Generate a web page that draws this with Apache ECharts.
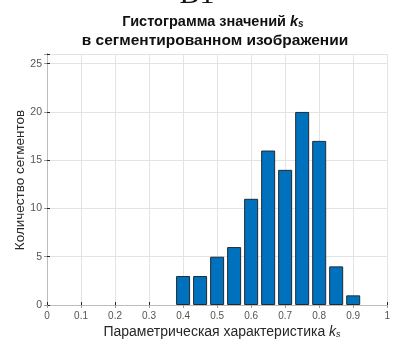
<!DOCTYPE html>
<html>
<head>
<meta charset="utf-8">
<script src="https://cdn.jsdelivr.net/npm/echarts@6/dist/echarts.min.js"></script>
<style>
  html, body { margin: 0; padding: 0; background: #fff; }
  #chart { width: 393px; height: 344px; }
</style>
</head>
<body>
<div id="chart"></div>
<script>
// Histogram bins (centres) and segment counts
const binCenters = [0.40, 0.45, 0.50, 0.55, 0.60, 0.65, 0.70, 0.75, 0.80, 0.85, 0.90];
const counts     = [3, 3, 5, 6, 11, 16, 14, 20, 17, 4, 1];
const xTicks = [0, 0.1, 0.2, 0.3, 0.4, 0.5, 0.6, 0.7, 0.8, 0.9, 1];
const yTicks = [0, 5, 10, 15, 20, 25];

const titleLine1 = 'Гистограмма значений ';
const titleLine2 = 'в сегментированном изображении';
const xName = 'Параметрическая характеристика ';
const yName = 'Количество сегментов';

const font = 'Arial, "Liberation Sans", Helvetica, sans-serif';
const tickColor = '#555';
const axisColor = '#262626';
const gridColor = '#e3e3e3';

const chart = echarts.init(document.getElementById('chart'));

const barData = binCenters.map((x, i) => [x, counts[i]]);

chart.setOption({
  animation: false,
  backgroundColor: '#fff',
  graphic: [
    {
      type: 'text', x: 197, y: -20,
      style: { text: 'В1', align: 'center', font: '30px "Liberation Serif", "DejaVu Serif", serif', fill: '#111' }
    },
    {
      type: 'text', x: 213, y: 22,
      style: {
        text: '{t|' + titleLine1 + '}{k|k}{s|s}',
        align: 'center', verticalAlign: 'middle',
        rich: {
          t: { font: 'bold 14.5px ' + font, fill: '#111' },
          k: { font: 'italic bold 14.5px ' + font, fill: '#111' },
          s: { font: 'italic bold 10px ' + font, fill: '#111', padding: [5, 0, 0, 0] }
        }
      }
    },
    {
      type: 'text', x: 215, y: 41,
      style: { text: titleLine2, align: 'center', verticalAlign: 'middle', font: 'bold 15.5px ' + font, fill: '#111' }
    },
    {
      type: 'text', x: 222, y: 332,
      style: {
        text: '{t|' + xName + '}{k|k}{s|s}',
        align: 'center', verticalAlign: 'middle',
        rich: {
          t: { font: '14px ' + font, fill: '#262626' },
          k: { font: 'italic 14px ' + font, fill: '#262626' },
          s: { font: 'italic 9px ' + font, fill: '#262626', padding: [5, 0, 0, 0] }
        }
      }
    },
    {
      type: 'text', x: 20, y: 180, rotation: Math.PI / 2,
      style: { text: yName, align: 'center', verticalAlign: 'middle', font: '13.5px ' + font, fill: '#262626' }
    }
  ],
  grid: { left: 47, right: 3, top: 54, bottom: 39, show: false },
  xAxis: [
    {
      type: 'value', min: 0, max: 1, interval: 0.1, position: 'bottom',
      axisLine: { show: true, onZero: false, lineStyle: { color: axisColor, width: 1 } },
      axisTick: { show: true, inside: true, length: 3, lineStyle: { color: axisColor } },
      axisLabel: {
        color: tickColor, fontFamily: font, fontSize: 10, margin: 6,
        formatter: v => xTicks.includes(Math.round(v * 10) / 10) ? String(Math.round(v * 10) / 10) : ''
      },
      splitLine: { show: true, lineStyle: { color: gridColor, width: 1 } }
    },
    {
      type: 'value', min: 0, max: 1, interval: 0.1, position: 'top',
      axisLine: { show: true, lineStyle: { color: '#bdbdbd', width: 1 } },
      axisTick: { show: true, inside: true, length: 3, lineStyle: { color: '#9a9a9a' } },
      axisLabel: { show: false },
      splitLine: { show: false }
    }
  ],
  yAxis: [
    {
      type: 'value', min: 0, max: 26, interval: 5, position: 'left',
      axisLine: { show: true, onZero: false, lineStyle: { color: axisColor, width: 1 } },
      axisTick: { show: true, inside: true, length: 3, lineStyle: { color: axisColor } },
      axisLabel: {
        color: tickColor, fontFamily: font, fontSize: 10.5, margin: 5,
        formatter: v => yTicks.includes(v) ? String(v) : ''
      },
      splitLine: { show: true, lineStyle: { color: gridColor, width: 1 } }
    },
    {
      type: 'value', min: 0, max: 26, interval: 5, position: 'right',
      axisLine: { show: true, lineStyle: { color: '#bdbdbd', width: 1 } },
      axisTick: { show: true, inside: true, length: 3, lineStyle: { color: '#9a9a9a' } },
      axisLabel: { show: false },
      splitLine: { show: false }
    }
  ],
  series: [
    {
      type: 'bar',
      xAxisIndex: 0, yAxisIndex: 0,
      data: barData,
      barWidth: 14,
      itemStyle: { color: '#0072BD', borderColor: '#1f2a33', borderWidth: 1 }
    }
  ]
});
</script>
</body>
</html>
